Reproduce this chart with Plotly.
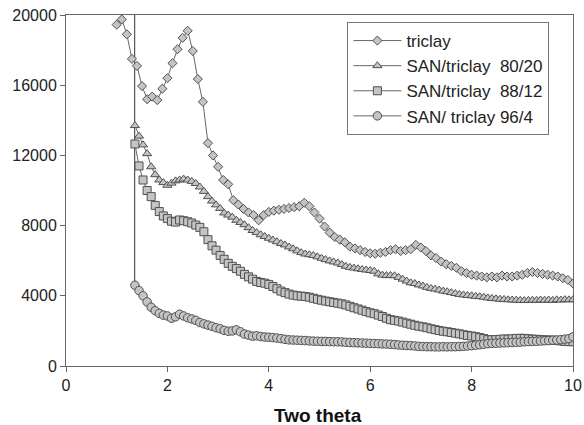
import numpy as np
import plotly.graph_objects as go

# Diffraction intensity vs two theta
triclay_x = np.round(1.0 + 0.1 * np.arange(91), 2)
triclay = [
    19450, 19750, 18900, 17500, 17100, 15950, 15200, 15350, 15150, 15800,
    16400, 17250, 18050, 18700, 19100, 17950, 16350, 15050, 12700, 12000,
    11350, 10600, 10350, 9450, 9200, 8950, 8750, 8600, 8300, 8600,
    8780, 8850, 8900, 8950, 9000, 9050, 9100, 9300, 9100, 8750,
    8400, 7950, 7600, 7350, 7200, 7050, 6800, 6700, 6600, 6500,
    6420, 6400, 6450, 6500, 6600, 6650, 6550, 6600, 6650, 6900,
    6750, 6550, 6300, 6150, 5950, 5800, 5700, 5600, 5400, 5300,
    5200, 5150, 5100, 5050, 5100, 5050, 5150, 5100, 5100, 5150,
    5200, 5300, 5350, 5300, 5250, 5200, 5150, 5100, 5000, 4900,
    4700,
]

san_x = np.round(1.36 + 0.08 * np.arange(109), 2)
san_80_20 = [
    13700, 13100, 12600, 12100, 11350, 10900, 10600, 10450, 10300, 10420,
    10550, 10600, 10650, 10600, 10520, 10400, 10200, 9950, 9650, 9400,
    9180, 8980, 8720, 8600, 8480, 8300, 8180, 8050, 7880, 7720,
    7600, 7480, 7380, 7280, 7180, 7080, 6980, 6900, 6780, 6680,
    6560, 6460, 6380, 6340, 6300, 6220, 6140, 6060, 5990, 5930,
    5870, 5780, 5680, 5620, 5580, 5540, 5500, 5470, 5440, 5400,
    5250, 5180, 5150, 5160, 5140, 5050, 4950, 4840, 4740, 4700,
    4620, 4560, 4480, 4420, 4380, 4330, 4270, 4230, 4180, 4130,
    4080, 4050, 4020, 4000, 3970, 3950, 3920, 3880, 3850, 3830,
    3800, 3790, 3770, 3760, 3750, 3740, 3730, 3740, 3750, 3740,
    3760, 3750, 3760, 3740, 3770, 3760, 3780, 3770, 3780,
]
san_88_12 = [
    12650, 11400, 10600, 10000, 9650, 9150, 8800, 8550, 8400, 8250,
    8200, 8320, 8280, 8220, 8150, 8030, 7900, 7650, 7200, 6850,
    6600, 6300, 6080, 5850, 5680, 5550, 5400, 5220, 5080, 4950,
    4820, 4760, 4720, 4650, 4530, 4400, 4270, 4180, 4100, 4040,
    4000, 3980, 3960, 3920, 3860, 3800, 3750, 3700, 3660, 3620,
    3580, 3540, 3480, 3400, 3320, 3250, 3180, 3100, 3030, 2980,
    2900, 2820, 2720, 2640, 2600, 2560, 2500, 2440, 2380, 2320,
    2270, 2230, 2180, 2120, 2070, 2020, 1980, 1950, 1910, 1870,
    1830, 1780, 1740, 1710, 1670, 1620, 1560, 1500, 1490, 1500,
    1520, 1540, 1530, 1550, 1570, 1580, 1570, 1550, 1530, 1520,
    1500, 1490, 1480, 1470, 1460, 1430, 1400, 1390, 1380,
]
san_96_4 = [
    4600, 4300, 4000, 3650, 3350, 3150, 3000, 2900, 2850, 2720,
    2800, 2950, 2850, 2750, 2680, 2600, 2480, 2400, 2330, 2260,
    2180, 2120, 2030, 1980, 2000, 2060, 1950, 1820, 1760, 1700,
    1720, 1680, 1650, 1640, 1620, 1590, 1560, 1520, 1490, 1480,
    1470, 1460, 1450, 1430, 1420, 1410, 1400, 1400, 1390, 1380,
    1380, 1370, 1350, 1340, 1330, 1320, 1310, 1300, 1290, 1280,
    1270, 1260, 1250, 1240, 1220, 1200, 1180, 1170, 1160, 1140,
    1120, 1110, 1100, 1100, 1090, 1090, 1100, 1090, 1100, 1100,
    1110, 1120, 1140, 1160, 1190, 1210, 1240, 1270, 1290, 1300,
    1310, 1320, 1330, 1340, 1350, 1360, 1380, 1390, 1400, 1410,
    1420, 1440, 1450, 1470, 1480, 1500, 1530, 1560, 1660,
]
# off-scale first reading of the 96/4 scan
spike_x = [1.355, 1.355]
spike_y = [20400, 4600]

x_ticks = [0, 2, 4, 6, 8, 10]
y_ticks = [0, 4000, 8000, 12000, 16000, 20000]
y_labels = [str(v) for v in y_ticks]

FILL = "#c4c4c4"
EDGE = "#505050"
LINE = "#666666"
FONT = "Liberation Sans, Arial, sans-serif"

series = [
    ("triclay", triclay_x, triclay, "diamond", 7),
    ("SAN/triclay\u00a0\u00a080/20", san_x, san_80_20, "triangle-up", 8),
    ("SAN/triclay\u00a0\u00a088/12", san_x, san_88_12, "square", 8),
    ("SAN/ triclay 96/4", san_x, san_96_4, "circle", 8.5),
]

fig = go.Figure()
fig.add_trace(go.Scatter(
    x=spike_x, y=spike_y, mode="lines", showlegend=False,
    line=dict(color="#333333", width=1), cliponaxis=False, hoverinfo="skip",
))
for name, xs, ys, sym, sz in series:
    fig.add_trace(go.Scatter(
        x=xs, y=ys, name=name, mode="lines+markers",
        line=dict(color=LINE, width=1),
        marker=dict(symbol=sym, size=sz, color=FILL,
                    line=dict(color=EDGE, width=1)),
    ))

tick_font = dict(family=FONT, size=16, color="#222222")
fig.update_layout(
    width=584, height=425,
    margin=dict(l=66, r=11, t=15, b=59),
    paper_bgcolor="white", plot_bgcolor="white",
    font=tick_font,
    showlegend=True,
    legend=dict(
        x=0.555, y=0.98, xanchor="left", yanchor="top",
        bgcolor="white", bordercolor="#777777", borderwidth=1,
        font=dict(family=FONT, size=17, color="#222222"),
        itemwidth=48, tracegroupgap=0,
    ),
    xaxis=dict(
        range=[0, 10], tickvals=x_ticks, showgrid=False, zeroline=False,
        showline=True, linecolor="#666666", linewidth=1, mirror=True,
        ticks="outside", ticklen=5, tickcolor="#666666",
        tickfont=tick_font, automargin=False,
    ),
    yaxis=dict(
        range=[0, 20000], tickvals=y_ticks, ticktext=y_labels,
        showgrid=False, zeroline=False,
        showline=True, linecolor="#666666", linewidth=1, mirror=True,
        ticks="outside", ticklen=5, tickcolor="#666666",
        tickfont=tick_font, automargin=False,
    ),
    annotations=[dict(
        text="<b>Two theta</b>", x=0.497, y=-0.105, xref="paper", yref="paper",
        xanchor="center", yanchor="top", showarrow=False,
        font=dict(family=FONT, size=19, color="#111111"),
    )],
)

fig.write_html("out.html")
